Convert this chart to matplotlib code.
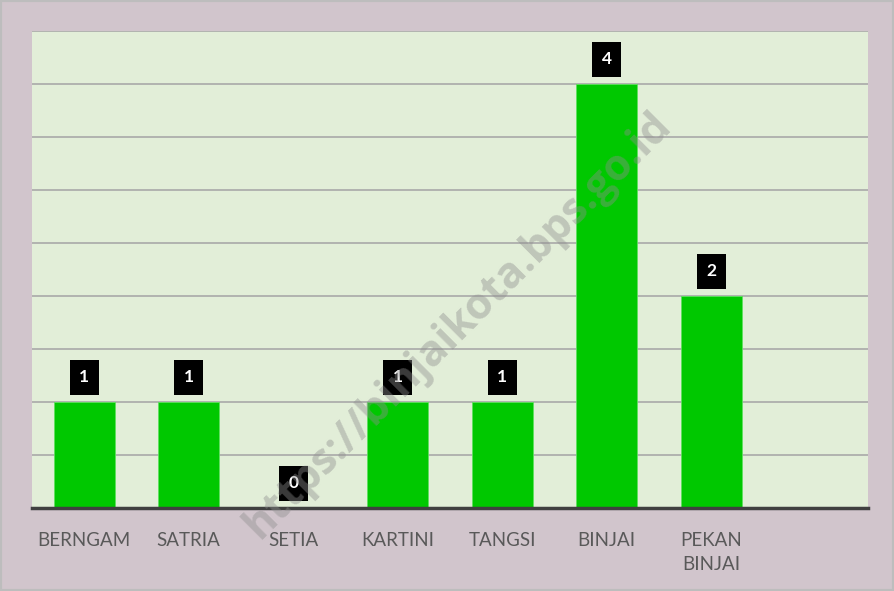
import numpy as np
import matplotlib.pyplot as plt
from matplotlib.patches import Rectangle

# data
kelurahan = ['BERNGAM', 'SATRIA', 'SETIA', 'KARTINI', 'TANGSI', 'BINJAI', 'PEKAN\nBINJAI', '']
jumlah = [1, 1, 0, 1, 1, 4, 2, 0]
watermark = 'https://binjaikota.bps.go.id'

plt.rcParams['font.family'] = ['Lato', 'DejaVu Sans']

fig = plt.figure(figsize=(8.94, 5.91), dpi=100, facecolor='#D1C5CC')
ax = fig.add_axes([32/894, 1 - 508/591, (868-32)/894, (508-31)/591])
ax.set_facecolor('#E2EED8')

x = np.arange(len(kelurahan))
bars = ax.bar(x[:-1], jumlah[:-1], width=0.585, color='#00C800',
              edgecolor='#5FE05F', linewidth=0.6, zorder=3)

for xi, v in zip(x[:-1], jumlah[:-1]):
    ax.text(xi, v + 0.235, str(v), ha='center', va='center', color='white',
            fontsize=12.5, fontweight='bold', zorder=5,
            bbox=dict(boxstyle='square,pad=0.55', fc='black', ec='none'))

ax.set_xlim(-0.5, len(kelurahan) - 0.5)
ax.set_ylim(0, 4.5)
ax.set_yticks(np.arange(0, 4.51, 0.5))
ax.yaxis.grid(True, color='#A9A9A9', linewidth=1.2, zorder=1)
ax.set_axisbelow(True)
ax.tick_params(axis='y', left=False, labelleft=False)
ax.tick_params(axis='x', bottom=False, pad=14)
ax.set_xticks(x)
ax.set_xticklabels(kelurahan, fontsize=13.5, color='#595959', va='top',
                   linespacing=1.45)

for s in ['top', 'right', 'left']:
    ax.spines[s].set_visible(False)
ax.spines['bottom'].set_color('#404040')
ax.spines['bottom'].set_linewidth(2.5)
ax.spines['bottom'].set_zorder(4)

fig.text(0.512, 0.45, watermark, rotation=45, ha='center', va='center',
         fontsize=31, fontweight='bold', color='#8E8E8E', alpha=0.42,
         family=['Open Sans', 'DejaVu Sans'], zorder=10)

fig.patches.append(Rectangle((0, 0), 1, 1, transform=fig.transFigure,
                             fill=False, ec='#BDBDBD', lw=3))

fig.savefig('out.png', dpi=100, facecolor=fig.get_facecolor())
